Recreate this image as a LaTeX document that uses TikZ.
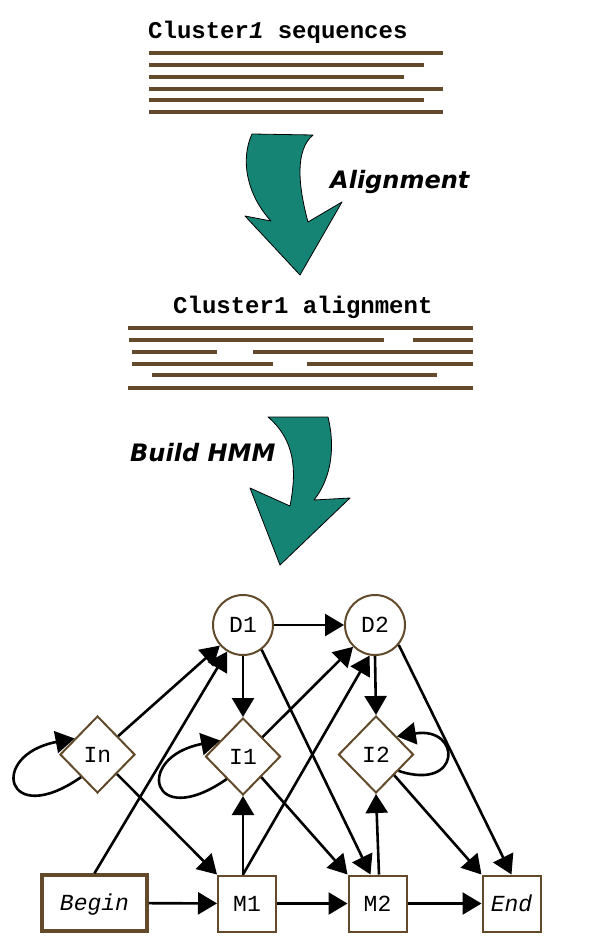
\documentclass[tikz,border=0pt]{standalone}
\usepackage{fontspec}
\setmainfont{DejaVu Sans}
\newfontfamily\monof{Liberation Mono}
\usetikzlibrary{arrows.meta,shapes.geometric}
\definecolor{brn}{RGB}{99,74,43}
\definecolor{tealf}{RGB}{22,132,116}
\begin{document}
\begin{tikzpicture}[x=1pt,y=-1pt,
  seq/.style={brn,line width=4pt},
  bigarrow/.style={fill=tealf,draw=black,line width=0.8pt,line join=round},
  st/.style={draw=brn,line width=2pt,fill=white,inner sep=0pt,font=\monof\fontsize{23}{26}\selectfont,text height=15pt,text depth=0pt},
  circ/.style={st,circle,minimum size=60pt},
  dia/.style={st,diamond,minimum width=75pt,minimum height=77pt},
  box/.style={st,rectangle,minimum width=58pt,minimum height=56pt},
  edge/.style={draw=black,line width=2.6pt,-{Triangle[length=19pt,width=22pt]}},
  lbl/.style={font=\bfseries\itshape\fontsize{24}{28}\selectfont,anchor=base west,inner sep=0pt},
  ttl/.style={font=\monof\bfseries\fontsize{24}{28}\selectfont,anchor=base west,inner sep=0pt}]
\useasboundingbox (0,0) rectangle (600,950);
\fill[white] (0,0) rectangle (600,950);

% titles
\node[ttl] (t1) at (148,38) {Cluster\textit{1} sequences};
\node[ttl] (t2) at (173,313) {Cluster1 alignment};

% sequences
\draw[seq] (149,53.5) -- (443,53.5);
\draw[seq] (149,65) -- (424,65);
\draw[seq] (149,76.5) -- (404,76.5);
\draw[seq] (149,88.5) -- (443,88.5);
\draw[seq] (149,100) -- (424,100);
\draw[seq] (149,112) -- (443,112);

% alignment
\draw[seq] (128,328) -- (473,328);
\draw[seq] (129,340) -- (384,340);
\draw[seq] (413,340) -- (473,340);
\draw[seq] (132,352) -- (217,352);
\draw[seq] (253,352) -- (473,352);
\draw[seq] (132,363.5) -- (273,363.5);
\draw[seq] (307,363.5) -- (473,363.5);
\draw[seq] (152,375) -- (437,375);
\draw[seq] (128,387.5) -- (473,387.5);

% big arrows
\draw[bigarrow] (252,134) .. controls (240,160) and (247,195) .. (271,221) -- (245,216) -- (300,275) -- (342,202) -- (308,222) .. controls (298,185) and (295,150) .. (313,135) -- cycle;
\draw[bigarrow] (268,417) -- (328,417) .. controls (336,450) and (330,480) .. (314,500) -- (350,498) -- (280,565) -- (250,488) -- (290,506) .. controls (297,470) and (295,440) .. (268,417) -- cycle;

\node[lbl] (al) at (330,188) {Alignment};
\node[lbl] (bh) at (130,461) {Build HMM};

% HMM nodes
\node[circ] (D1) at (243,625) {D1};
\node[circ] (D2) at (375,625) {D2};
\node[dia] (In) at (97.5,754.5) {In};
\node[dia] (I1) at (243,756.5) {I1};
\node[dia] (I2) at (376,754.5) {I2};
\node[box,minimum width=105pt,line width=3.5pt] (Begin) at (94.5,903) {\itshape Begin};
\node[box] (M1) at (247,903.5) {M1};
\node[box] (M2) at (377.5,903.5) {M2};
\node[box] (End) at (511.5,903.5) {\itshape End};

% edges
\draw[edge] (In) -- (D1);
\draw[edge] (In.234) .. controls (5,830) and (-12,755) .. (In.145);
\draw[edge] (In) -- (M1.north west);
\draw[edge] (Begin.north) -- (D1);
\draw[edge] (Begin) -- (M1);
\draw[edge] (D1) -- (D2);
\draw[edge] (D1.south) -- (I1.north);
\draw[edge] (D1.-53) -- ([xshift=-7pt]M2.north);
\draw[edge] (I1.234) .. controls (150.5,832) and (133.5,757) .. (I1.145);
\draw[edge] (I1) -- (D2);
\draw[edge] (I1) -- (M2.north west);
\draw[edge] (M1.north -| I1.south) -- (I1.south);
\draw[edge] (M1.north -| I1.south) -- (D2.-100);
\draw[edge] (M1) -- (M2);
\draw[edge] (D2.south) -- (I2.north);
\draw[edge] (D2.-40) -- (End.north);
\draw[edge] (I2.-36) .. controls (462,792) and (462,726) .. (I2.41);
\draw[edge] (I2) -- (End.north west);
\draw[edge] ([xshift=1.5pt]M2.north) -- (I2.south);
\draw[edge] (M2) -- (End);
\end{tikzpicture}
\end{document}
